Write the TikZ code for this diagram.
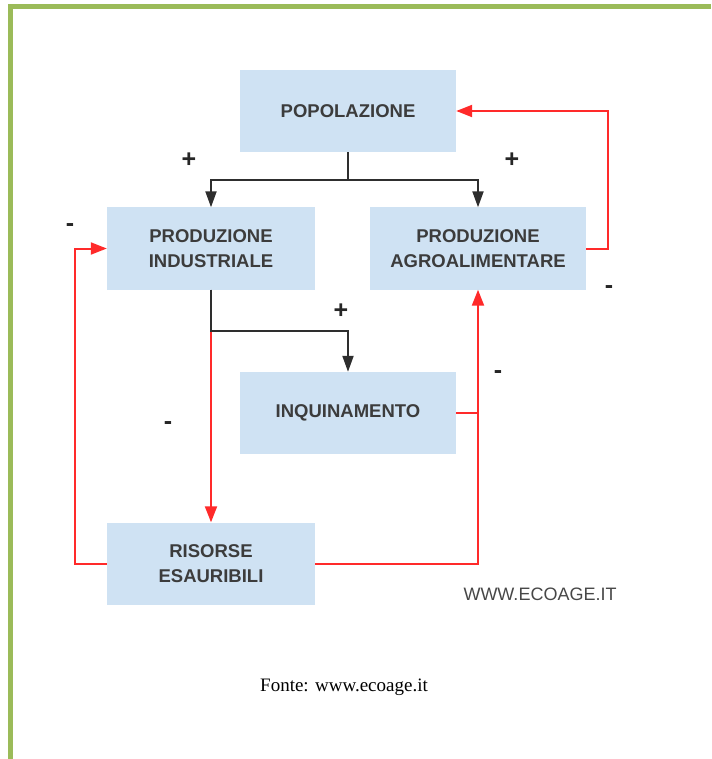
\documentclass[tikz,border=0pt]{standalone}
\usepackage{fontspec}
\setmainfont{Liberation Serif}
\newfontfamily\boxfont{Liberation Sans}
\usepackage{tikz}
\usetikzlibrary{arrows.meta}

\definecolor{boxblue}{HTML}{CFE2F3}
\definecolor{frame}{HTML}{9BBB59}
\definecolor{boxtext}{HTML}{3C3C3C}
\definecolor{redline}{HTML}{FF2A2A}
\definecolor{blkline}{HTML}{2E2E2E}

\begin{document}
\begin{tikzpicture}[x=1pt,y=-1pt]
        \tikzstyle{every node}+=[inner sep=0pt]
        \tikzstyle{box}=[fill=boxblue,minimum height=82,align=center,text=boxtext,font=\boxfont\bfseries\fontsize{18.5}{25}\selectfont]
        \tikzstyle{blk}=[draw=blkline,line width=2,-{Triangle[width=11,length=16]}]
        \tikzstyle{redl}=[draw=redline,line width=2,-{Triangle[width=12,length=16]}]
        \tikzstyle{sign}=[font=\boxfont\bfseries\fontsize{25}{25}\selectfont,text=black!85]
        \useasboundingbox (0,0) rectangle (711,759);
        \draw [frame,line width=5] (10,759) -- (10,7) -- (711,7);
        % boxes
        \node [box,minimum width=216] (pop) at (348,111) {POPOLAZIONE};
        \node [box,minimum width=208] (ind) at (211,248.5) {PRODUZIONE\\INDUSTRIALE};
        \node [box,minimum width=216] (agro) at (478,248.5) {PRODUZIONE\\AGROALIMENTARE};
        \node [box,minimum width=216] (inq) at (348,413) {INQUINAMENTO};
        \node [box,minimum width=208] (ris) at (211,563.5) {RISORSE\\ESAURIBILI};
        \coordinate (split) at (348,180);
        % connectors
        \draw [blk,-] (pop.south) -- (split);
        \draw [blk] (split) -| (ind.north);
        \draw [blk] (split) -| (agro.north);
        \draw [redl] (agro.east) -- ++(22,0) |- (pop.east);
        \draw [redl] (ris.west) -- ++(-32,0) |- (ind.west);
        \draw [redl] (ind.south) -- (ris.north);
        \draw [blk] (ind.south) -- ++(0,41) -| (inq.north);
        \draw [redl] (ris.east) -| (agro.south);
        \draw [redl,-] (inq.east) -- (inq.east -| agro.south);
        % signs
        \node [sign] (p1) at (189,160) {+};
        \node [sign] (p2) at (512,160) {+};
        \node [sign] (p3) at (341,311) {+};
        \node [sign] (m1) at (70,228) {-};
        \node [sign] (m2) at (609,290) {-};
        \node [sign] (m3) at (168,426) {-};
        \node [sign] (m4) at (498,375) {-};
        % sources
        \node [text=black!72,font=\boxfont\fontsize{18}{18}\selectfont] (web) at (540,594) {WWW.ECOAGE.IT};
        \node [font=\fontsize{19}{19}\selectfont] (fonte) at (344,687) {Fonte: www.ecoage.it};
\end{tikzpicture}
\end{document}
